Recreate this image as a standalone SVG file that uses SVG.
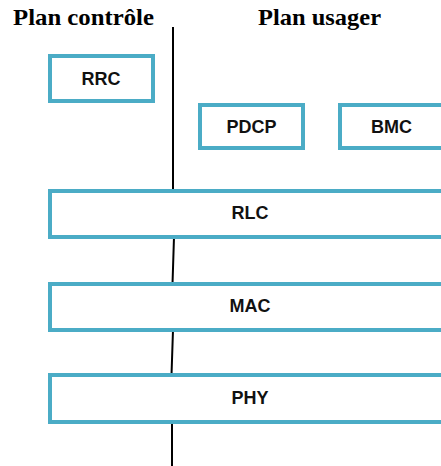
<svg xmlns="http://www.w3.org/2000/svg" width="441" height="466" viewBox="0 0 441 466">
<style>
.box{fill:#fff;stroke:#4BACC6;stroke-width:4}
.lbl{font-family:"Liberation Sans",Arial,sans-serif;font-weight:bold;font-size:18px;fill:#111;text-anchor:middle}
.ttl{font-family:"Liberation Serif","Times New Roman",serif;font-weight:bold;font-size:23px;fill:#000}
.ln{stroke:#000;stroke-width:2;fill:none}
</style>
<rect width="441" height="466" fill="#fff"/>
<g id="titles">
<text class="ttl" x="13" y="25" textLength="141" lengthAdjust="spacingAndGlyphs">Plan contrôle</text>
<text class="ttl" x="258" y="25" textLength="123" lengthAdjust="spacingAndGlyphs">Plan usager</text>
</g>
<g id="connectors">
<path class="ln" d="M173 27 L173 191 M174 237 L172.5 284 M173 330 L171.5 375 M172 422 L172 466"/>
</g>
<g id="rrc"><rect class="box" x="50" y="56" width="103" height="45"/><text class="lbl" x="101" y="85">RRC</text></g>
<g id="pdcp"><rect class="box" x="200" y="105" width="103" height="43"/><text class="lbl" x="251.5" y="133">PDCP</text></g>
<g id="bmc"><rect class="box" x="340" y="105" width="103" height="43"/><text class="lbl" x="391.5" y="133">BMC</text></g>
<g id="rlc"><rect class="box" x="50" y="191" width="400" height="46"/><text class="lbl" x="250" y="219">RLC</text></g>
<g id="mac"><rect class="box" x="50" y="284" width="400" height="46"/><text class="lbl" x="250" y="312">MAC</text></g>
<g id="phy"><rect class="box" x="50" y="375" width="400" height="47"/><text class="lbl" x="250" y="404">PHY</text></g>
</svg>
